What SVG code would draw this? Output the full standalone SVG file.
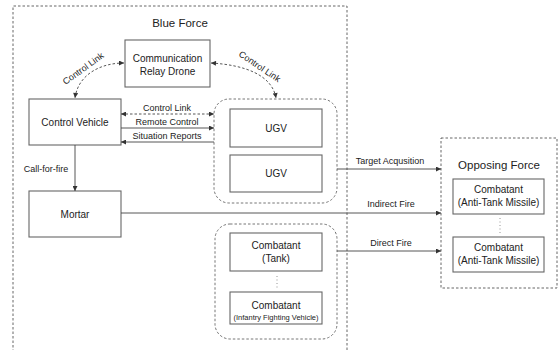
<svg xmlns="http://www.w3.org/2000/svg" width="559" height="350" viewBox="0 0 559 350">
<style>
  text { font-family: "Liberation Sans", Arial, sans-serif; fill: #222; text-anchor: middle; }
  .title { font-size: 11.5px; }
  .node { font-size: 10px; }
  .small { font-size: 7.5px; }
  .lbl { font-size: 9px; }
  .box { fill: #fff; stroke: #666; stroke-width: 1.1; }
  .frame { fill: none; stroke: #555; stroke-width: 0.9; stroke-dasharray: 2.5 2; }
  .grp { fill: none; stroke: #666; stroke-width: 0.9; stroke-dasharray: 2.5 2; }
  .solid { fill: none; stroke: #444; stroke-width: 0.9; }
  .dash { fill: none; stroke: #444; stroke-width: 0.9; stroke-dasharray: 2.5 2; }
  .dots { fill: none; stroke: #888; stroke-width: 0.9; stroke-dasharray: 1 2.5; }
</style>
<defs>
  <marker id="ah" viewBox="0 0 10 10" refX="10" refY="5" markerWidth="6" markerHeight="5" markerUnits="userSpaceOnUse" orient="auto-start-reverse">
    <path d="M0,0 L10,5 L0,10 z" fill="#333"/>
  </marker>
</defs>

<rect width="559" height="350" fill="#fff"/>

<g id="blue-force">
  <path class="frame" d="M13,352 V6 H347 V352"/>
  <text class="title" x="180" y="27">Blue Force</text>
</g>

<g id="opposing-force">
  <rect class="frame" x="441" y="138" width="116" height="150"/>
  <text class="title" x="499" y="169">Opposing Force</text>
</g>

<g id="ugv-group">
  <rect class="grp" x="214" y="99" width="123" height="104" rx="15"/>
</g>

<g id="combatant-group">
  <rect class="grp" x="215" y="224" width="122" height="115" rx="15"/>
</g>

<g id="drone">
  <rect class="box" x="125" y="40" width="85" height="47"/>
  <text class="node" x="167.5" y="62">Communication</text>
  <text class="node" x="167.5" y="75">Relay Drone</text>
</g>

<g id="control-vehicle">
  <rect class="box" x="29" y="99" width="92" height="46"/>
  <text class="node" x="75" y="126">Control Vehicle</text>
</g>

<g id="mortar">
  <rect class="box" x="29" y="191" width="92" height="46"/>
  <text class="node" x="75" y="218">Mortar</text>
</g>

<g id="ugv1">
  <rect class="box" x="230" y="109" width="92" height="38"/>
  <text class="node" x="276" y="132">UGV</text>
</g>

<g id="ugv2">
  <rect class="box" x="230" y="155" width="92" height="37"/>
  <text class="node" x="276" y="177">UGV</text>
</g>

<g id="combatant-tank">
  <rect class="box" x="230" y="233" width="92" height="38"/>
  <text class="node" x="276" y="249">Combatant</text>
  <text class="node" x="276" y="262">(Tank)</text>
</g>

<g id="combatant-ifv">
  <rect class="box" x="230" y="292" width="92" height="32"/>
  <text class="node" x="276" y="309">Combatant</text>
  <text class="small" x="276" y="320">(Infantry Fighting Vehicle)</text>
</g>

<g id="combatant-atm1">
  <rect class="box" x="453" y="179" width="91" height="35"/>
  <text class="node" x="498.5" y="193">Combatant</text>
  <text class="node" x="498.5" y="206">(Anti-Tank Missile)</text>
</g>

<g id="combatant-atm2">
  <rect class="box" x="453" y="237" width="91" height="35"/>
  <text class="node" x="498.5" y="251">Combatant</text>
  <text class="node" x="498.5" y="264">(Anti-Tank Missile)</text>
</g>

<g id="connectors">
  <path class="dots" d="M277,276 V290"/>
  <path class="dots" d="M500,218 V235"/>

  <path class="dash" d="M124,63 C100,63 78,75 75,98" marker-start="url(#ah)" marker-end="url(#ah)"/>
  <text class="lbl" transform="translate(85,71) rotate(-36)">Control Link</text>

  <path class="dash" d="M211,63 C245,65 272,75 276,98" marker-start="url(#ah)" marker-end="url(#ah)"/>
  <text class="lbl" transform="translate(258,69) rotate(34)">Control Link</text>

  <path class="dash" d="M121,114 H214" marker-start="url(#ah)" marker-end="url(#ah)"/>
  <text class="lbl" x="167" y="111">Control Link</text>

  <path class="solid" d="M121,128 H214" marker-end="url(#ah)"/>
  <text class="lbl" x="167" y="125">Remote Control</text>

  <path class="solid" d="M214,142 H121" marker-end="url(#ah)"/>
  <text class="lbl" x="167" y="139">Situation Reports</text>

  <path class="solid" d="M75,145 V191" marker-end="url(#ah)"/>
  <text class="lbl" x="46" y="172">Call-for-fire</text>

  <path class="solid" d="M337,169 H441" marker-end="url(#ah)"/>
  <text class="lbl" x="390" y="164">Target Acqusition</text>

  <path class="solid" d="M121,213 H441" marker-end="url(#ah)"/>
  <text class="lbl" x="391" y="207">Indirect Fire</text>

  <path class="solid" d="M337,251 H441" marker-end="url(#ah)"/>
  <text class="lbl" x="391" y="246">Direct Fire</text>
</g>
</svg>
